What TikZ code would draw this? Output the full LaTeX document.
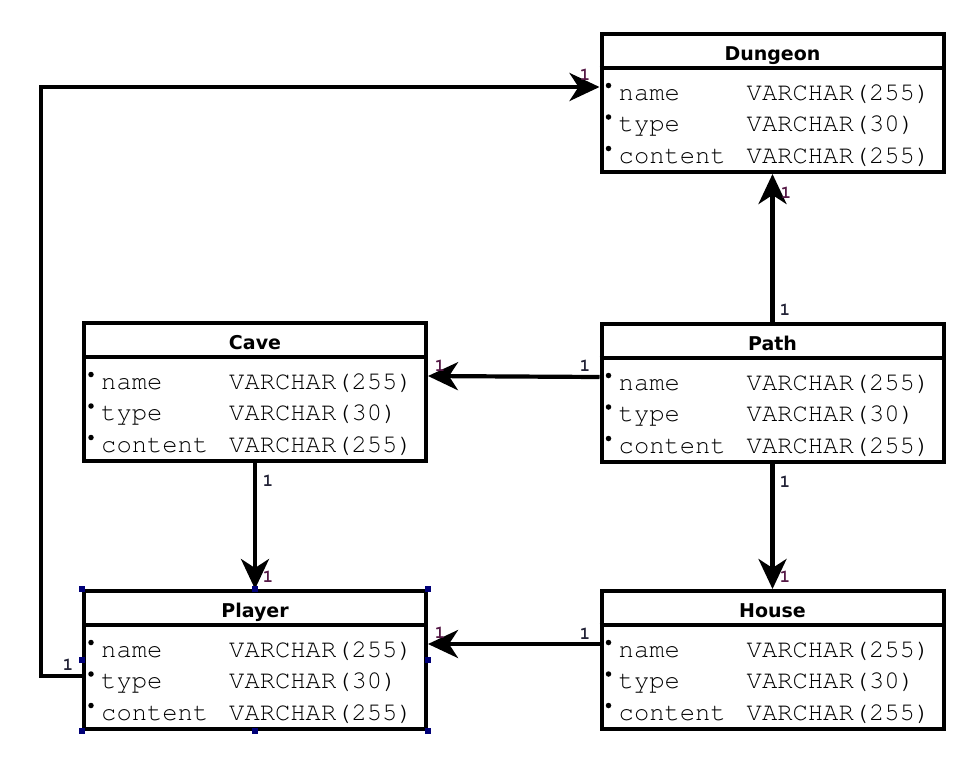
\documentclass[tikz,border=0pt]{standalone}
\usepackage[T1]{fontenc}
\usepackage{fontspec}
\usepackage{tikz}
\usetikzlibrary{arrows.meta}
\usetikzlibrary{positioning}
\newfontfamily\titlefont{DejaVu Sans}
\newcommand\fieldfont{\fontencoding{T1}\fontfamily{pcr}\selectfont}
\definecolor{multtgt}{RGB}{85,25,70}
\definecolor{multsrc}{RGB}{35,35,55}
\definecolor{handlec}{RGB}{0,0,120}

\begin{document}
\begin{tikzpicture}[x=1pt,y=-1pt,
 entity/.style={draw,line width=4pt,minimum width=342pt,minimum height=138pt,inner sep=0pt},
 title/.style={font=\titlefont\bfseries\fontsize{19pt}{19pt}\selectfont,anchor=base,inner sep=0pt},
 field/.style={font=\fieldfont\fontsize{25.5pt}{25.5pt}\selectfont,anchor=base west,inner sep=0pt},
 dot/.style={circle,fill=black,minimum size=5.5pt,inner sep=0pt},
 conn/.style={line width=4.2pt,-{Stealth[length=30pt,width=28pt,inset=9pt]}},
 tgt/.style={font=\fieldfont\bfseries\fontsize{18pt}{18pt}\selectfont,text=multtgt,inner sep=0pt},
 src/.style={font=\fieldfont\bfseries\fontsize{18pt}{18pt}\selectfont,text=multsrc,inner sep=0pt},
 handle/.style={fill=handlec,draw=handlec,minimum size=5pt,inner sep=0pt}]
 \useasboundingbox (0,0) rectangle (974,772);
 % tables
 \node[entity] (dungeon) at (772.5,103) {};
 \node[entity] (cave) at (255,392) {};
 \node[entity] (path) at (772.5,393) {};
 \node[entity] (player) at (255,660) {};
 \node[entity] (house) at (772.5,660) {};
 \foreach \ent/\ttl in {dungeon/Dungeon,cave/Cave,path/Path,player/Player,house/House}{
  \draw[line width=4pt] ([yshift=-36pt]\ent.north west) -- ([yshift=-36pt]\ent.north east);
  \node[title] (\ent-title) at ([yshift=-28pt]\ent.north) {\ttl};
  \foreach \fld/\typ [count=\i] in {name/VARCHAR(255),type/VARCHAR(30),content/VARCHAR(255)}{
   \node[dot] (\ent-\fld-dot) at ([xshift=9pt,yshift={-22pt-\i*31.5pt}]\ent.north west) {};
   \node[field] (\ent-\fld) at ([xshift=19pt,yshift={-36.5pt-\i*31.5pt}]\ent.north west) {\fld};
   \node[field] (\ent-\fld-type) at ([xshift=147pt,yshift={-36.5pt-\i*31.5pt}]\ent.north west) {\typ};
  }
 }
 % connectors
 \coordinate (player-out) at ([yshift=-87pt]player.north west);
 \coordinate (dungeon-in) at ([yshift=-55pt]dungeon.north west);
 \draw[conn] (player-out) -- ++(-41,0) |- (dungeon-in);
 \draw[conn] (path.north) -- (dungeon.south);
 \draw[conn] ([yshift=-55pt]path.north west) -- ([yshift=-55pt]cave.north east);
 \draw[conn] (cave.south) -- (player.north);
 \draw[conn] (path.south) -- (house.north);
 \draw[conn] ([yshift=-55pt]house.north west) -- ([yshift=-55pt]player.north east);
 % multiplicities
 \node[tgt] (dungeon-m1) at (585,75) {1};
 \node[src] (player-m1) at (68,665) {1};
 \node[tgt] (dungeon-m2) at (786,193) {1};
 \node[src] (path-m1) at (785,310) {1};
 \node[src] (path-m2) at (585,366) {1};
 \node[tgt] (cave-m1) at (440,366) {1};
 \node[src] (cave-m2) at (268,481) {1};
 \node[tgt] (player-m2) at (268,577) {1};
 \node[src] (path-m3) at (785,482) {1};
 \node[tgt] (house-m1) at (785,577) {1};
 \node[src] (house-m2) at (585,634) {1};
 \node[tgt] (player-m3) at (440,633) {1};
 % selection handles
 \foreach \a in {north west,north,north east,west,east,south west,south,south east}
  \node[handle] at (player.\a) {};
\end{tikzpicture}
\end{document}
